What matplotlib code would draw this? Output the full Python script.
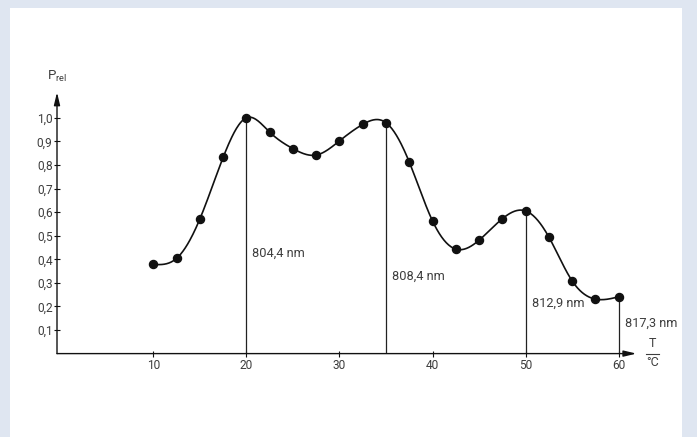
import numpy as np
import matplotlib
matplotlib.use("Agg")
import matplotlib.pyplot as plt
from matplotlib.patches import Rectangle
from matplotlib.lines import Line2D

# ---- data ----
temps = [10, 12.5, 15, 17.5, 20, 22.5, 25, 27.5, 30, 32.5, 35, 37.5, 40,
         42.5, 45, 47.5, 50, 52.5, 55, 57.5, 60]
p_rel = [0.378, 0.404, 0.571, 0.832, 1.0, 0.939, 0.869, 0.842, 0.902, 0.972,
         0.979, 0.812, 0.562, 0.443, 0.481, 0.572, 0.605, 0.494, 0.308, 0.231, 0.241]
peak_temps = [20, 35, 50, 60]
peak_vals = [1.0, 0.979, 0.605, 0.241]
peak_labels = ["804,4 nm", "808,4 nm", "812,9 nm", "817,3 nm"]
label_y = [0.425, 0.326, 0.213, 0.128]
x_ticks = [10, 20, 30, 40, 50, 60]
y_ticks = [0.1, 0.2, 0.3, 0.4, 0.5, 0.6, 0.7, 0.8, 0.9, 1.0]
y_tick_labels = ["0,1", "0,2", "0,3", "0,4", "0,5", "0,6", "0,7", "0,8", "0,9", "1,0"]


def natural_spline(x, y, xs):
    x = np.asarray(x, float)
    y = np.asarray(y, float)
    n = len(x)
    h = np.diff(x)
    A = np.zeros((n, n))
    b = np.zeros(n)
    A[0, 0] = 1
    A[-1, -1] = 1
    for i in range(1, n - 1):
        A[i, i - 1] = h[i - 1]
        A[i, i] = 2 * (h[i - 1] + h[i])
        A[i, i + 1] = h[i]
        b[i] = 6 * ((y[i + 1] - y[i]) / h[i] - (y[i] - y[i - 1]) / h[i - 1])
    M = np.linalg.solve(A, b)
    idx = np.clip(np.searchsorted(x, xs) - 1, 0, n - 2)
    x0, x1 = x[idx], x[idx + 1]
    hh = x1 - x0
    t0 = x1 - xs
    t1 = xs - x0
    return (M[idx] * t0 ** 3 / (6 * hh) + M[idx + 1] * t1 ** 3 / (6 * hh)
            + (y[idx] / hh - M[idx] * hh / 6) * t0
            + (y[idx + 1] / hh - M[idx + 1] * hh / 6) * t1)


plt.rcParams['font.family'] = ['Roboto', 'DejaVu Sans']

W, H = 697, 437
fig = plt.figure(figsize=(W / 100, H / 100), dpi=100)
fig.patch.set_facecolor('#dfe6f1')
fig.patches.append(Rectangle((10 / W, 0), (682 - 10) / W, (437 - 7.5) / H,
                             transform=fig.transFigure, facecolor='white',
                             edgecolor='none', zorder=-10))

ax = fig.add_axes([57 / W, 83.4 / H, 579.4 / W, 261.3 / H])
ax.set_zorder(5)
ax.set_facecolor('none')
ax.set_xlim(-0.35, 61.9)
ax.set_ylim(0, 1.108)
for s in ax.spines.values():
    s.set_visible(False)

TXT = '#3d3d3d'
INK = '#111111'

# axes with arrows
arrow_kw = dict(arrowstyle='-|>,head_length=0.75,head_width=0.18', color=INK,
                lw=1.0, shrinkA=0, shrinkB=0)
ax.annotate('', xy=(1, 0), xytext=(0, 0), xycoords='axes fraction',
            textcoords='axes fraction', arrowprops=arrow_kw)
ax.annotate('', xy=(0, 1), xytext=(0, 0), xycoords='axes fraction',
            textcoords='axes fraction', arrowprops=arrow_kw)

ax.set_xticks(x_ticks)
ax.set_xticklabels([str(v) for v in x_ticks])
ax.set_yticks(y_ticks)
ax.set_yticklabels(y_tick_labels)
ax.tick_params(axis='both', direction='inout', length=3.8, width=0.8,
               color=INK, labelcolor=TXT, labelsize=8.6)
ax.tick_params(axis='x', pad=2.0)
ax.tick_params(axis='y', pad=1.3)

# smooth curve
xs = np.linspace(temps[0], temps[-1], 600)
ys = natural_spline(temps, p_rel, xs)
ax.plot(xs, ys, color=INK, lw=1.2, zorder=3)
ax.plot(temps, p_rel, 'o', color=INK, ms=5.8, zorder=4)

# vertical lines at peaks and labels
ax.vlines(peak_temps, 0, peak_vals, color='#222222', lw=0.9, zorder=2)
for xt, yl, lab in zip(peak_temps, label_y, peak_labels):
    ax.text(xt + 0.65, yl, lab, fontsize=9.2, color=TXT, va='center', ha='left')

# axis labels
ax.text(0, 1.175, r'P$_{\mathregular{rel}}$', transform=ax.get_yaxis_transform(),
        fontsize=9.5, color=TXT, ha='center', va='center', clip_on=False)
ax.text(63.6, 0.014, 'T', fontsize=9, color=TXT, ha='center', va='bottom', clip_on=False)
ax.text(63.6, -0.012, '°C', fontsize=9, color=TXT, ha='center', va='top', clip_on=False)
ax.add_line(Line2D([62.9, 64.3], [0.0, 0.0], color=TXT, lw=0.8, clip_on=False))

fig.savefig('out.png', dpi=100, facecolor=fig.get_facecolor())
